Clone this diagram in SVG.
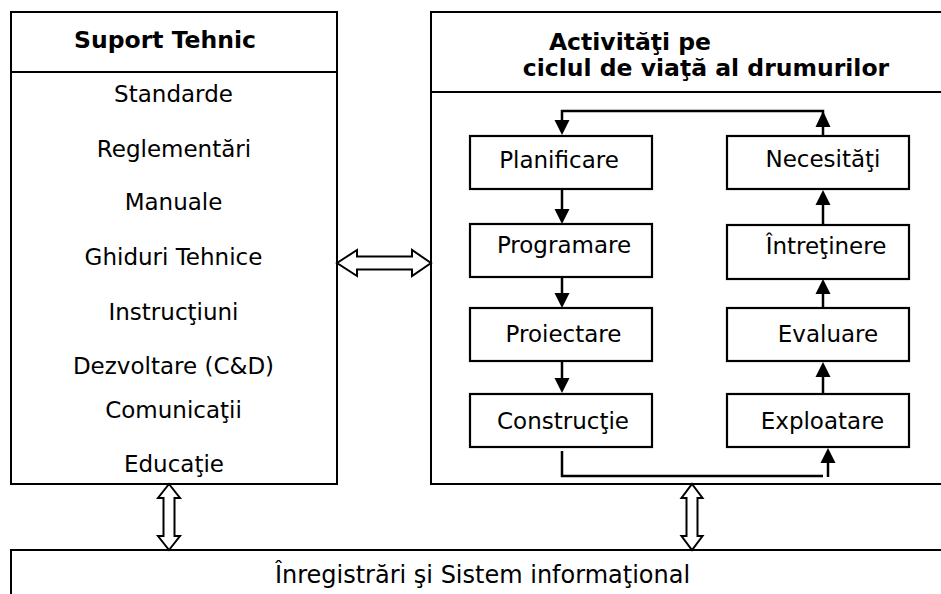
<svg xmlns="http://www.w3.org/2000/svg" width="941" height="594" viewBox="0 0 941 594">
<style>
text{font-family:"DejaVu Sans","Liberation Sans",sans-serif;font-size:23px;fill:#000;text-anchor:middle}
.t{font-weight:bold;font-size:23.5px}
.big{font-size:24px}
.outer{fill:#fff;stroke:#000;stroke-width:2}
.box{fill:#fff;stroke:#000;stroke-width:2.2}
.ln{fill:none;stroke:#000;stroke-width:2.5}
.hd{fill:#000;stroke:none}
.dbl{fill:#fff;stroke:#000;stroke-width:2;stroke-linejoin:miter}
</style>
<rect width="941" height="594" fill="#fff"/>
<g id="suport">
<rect class="outer" x="11" y="12" width="326" height="472"/>
<line class="outer" x1="11" y1="72" x2="337" y2="72"/>
<text class="t" x="165" y="48">Suport Tehnic</text>
<text x="173.5" y="102">Standarde</text>
<text x="174" y="157">Reglementări</text>
<text x="173.5" y="210">Manuale</text>
<text x="173.5" y="265">Ghiduri Tehnice</text>
<text x="173.5" y="320">Instrucţiuni</text>
<text x="173.5" y="374">Dezvoltare (C&amp;D)</text>
<text x="173.5" y="418">Comunicaţii</text>
<text x="174" y="472">Educaţie</text>
</g>
<g id="activitati">
<rect class="outer" x="431" y="12" width="520" height="472"/>
<line class="outer" x1="431" y1="92" x2="951" y2="92"/>
<text class="t" x="630" y="50">Activităţi pe</text>
<text class="t" x="706" y="76">ciclul de viaţă al drumurilor</text>
</g>
<g id="inregistrari">
<rect class="outer" x="11" y="550" width="940" height="60"/>
<text class="big" x="482.5" y="583">Înregistrări şi Sistem informaţional</text>
</g>
<g id="planificare"><rect class="box" x="470" y="136" width="182" height="53"/><text x="559" y="168">Planificare</text></g>
<g id="programare"><rect class="box" x="470" y="224" width="182" height="53"/><text x="564" y="253">Programare</text></g>
<g id="proiectare"><rect class="box" x="470" y="308" width="182" height="53"/><text x="563.5" y="342">Proiectare</text></g>
<g id="constructie"><rect class="box" x="470" y="394" width="182" height="53"/><text x="563" y="429">Construcţie</text></g>
<g id="necesitati"><rect class="box" x="727" y="136" width="182" height="53"/><text x="823" y="167">Necesităţi</text></g>
<g id="intretinere"><rect class="box" x="727" y="225" width="182" height="54"/><text x="826" y="254">Întreţinere</text></g>
<g id="evaluare"><rect class="box" x="727" y="308" width="182" height="53"/><text x="828" y="342">Evaluare</text></g>
<g id="exploatare"><rect class="box" x="727" y="394" width="182" height="53"/><text x="822.5" y="429">Exploatare</text></g>
<g id="connectors">
<polyline class="ln" points="823,136 823,111 562,111 562,122"/>
<polygon class="hd" points="554.5,120 569.5,120 562,135"/>
<polygon class="hd" points="815.5,127 830.5,127 823,111"/>
<line class="ln" x1="562" y1="189" x2="562" y2="212"/>
<polygon class="hd" points="554.5,209 569.5,209 562,224"/>
<line class="ln" x1="562" y1="277" x2="562" y2="295"/>
<polygon class="hd" points="554.5,293 569.5,293 562,308"/>
<line class="ln" x1="562" y1="361" x2="562" y2="380"/>
<polygon class="hd" points="554.5,378 569.5,378 562,393"/>
<line class="ln" x1="823" y1="225" x2="823" y2="203"/>
<polygon class="hd" points="815.5,205 830.5,205 823,190"/>
<line class="ln" x1="823" y1="308" x2="823" y2="292"/>
<polygon class="hd" points="815.5,294 830.5,294 823,279"/>
<line class="ln" x1="823" y1="394" x2="823" y2="375"/>
<polygon class="hd" points="815.5,377 830.5,377 823,362"/>
<polyline class="ln" points="562,451 562,476 823,476"/>
<line class="ln" x1="828" y1="477" x2="828" y2="461"/>
<polygon class="hd" points="820.5,463 835.5,463 828,448"/>
<polygon class="dbl" points="337,263 357,250 357,256.5 412,256.5 412,250 431,263 412,276 412,269.5 357,269.5 357,276"/>
<polygon class="dbl" points="169,484 180,498 174.5,498 174.5,536 180,536 169,550 158,536 163.5,536 163.5,498 158,498"/>
<polygon class="dbl" points="692,484 702.5,498 697.5,498 697.5,536 702.5,536 692,550 681.5,536 686.5,536 686.5,498 681.5,498"/>
</g>
</svg>
